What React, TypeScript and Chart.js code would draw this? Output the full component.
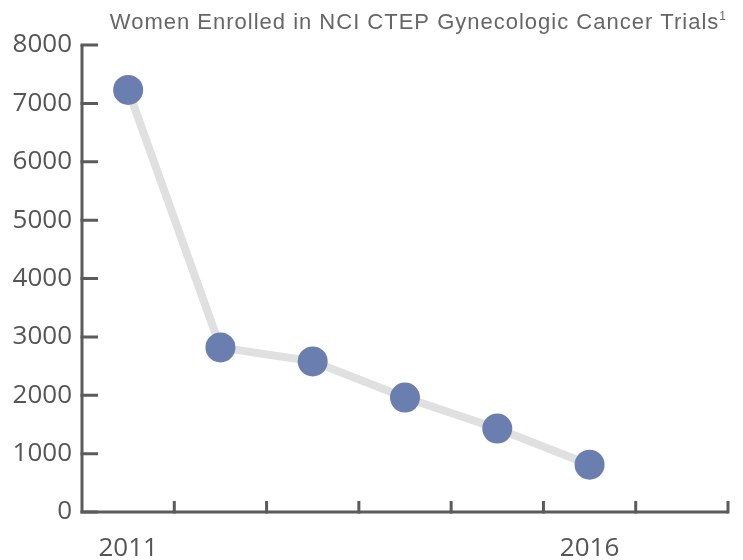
import React, { useEffect, useRef } from "react";
import { Chart, registerables } from "chart.js";

Chart.register(...registerables);

const years = ["2011", "2012", "2013", "2014", "2015", "2016", "2017"];
const shownYearLabels = ["2011", "2016"];
const enrolled = [7230, 2820, 2580, 1960, 1430, 810, null];
const yTicks = [0, 1000, 2000, 3000, 4000, 5000, 6000, 7000, 8000];
const titleText = "Women Enrolled in NCI CTEP Gynecologic Cancer Trials";
const titleSup = "1";

const axisColor = "#5b5b5b";

const axesPlugin = {
  id: "customAxes",
  beforeDatasetsDraw(chart: any) {
    const { ctx, scales } = chart;
    const x = scales.x;
    const y = scales.y;
    const left = x.left;
    const right = x.right;
    const top = y.getPixelForValue(8000);
    const bottom = y.getPixelForValue(0);
    ctx.save();
    ctx.strokeStyle = axisColor;
    ctx.lineWidth = 3;
    ctx.lineCap = "butt";
    ctx.lineJoin = "miter";
    ctx.beginPath();
    ctx.moveTo(left, top);
    ctx.lineTo(left, bottom);
    ctx.lineTo(right, bottom);
    ctx.stroke();
    ctx.beginPath();
    for (const v of yTicks) {
      const py = y.getPixelForValue(v);
      ctx.moveTo(left - 1.5, py);
      ctx.lineTo(left + 16, py);
    }
    ctx.stroke();
    ctx.beginPath();
    for (let i = 1; i <= years.length; i++) {
      const px = x.getPixelForValue(i - 0.5);
      ctx.moveTo(px, bottom + 1.5);
      ctx.lineTo(px, bottom - 11);
    }
    ctx.stroke();
    // title
    ctx.fillStyle = "#666666";
    const mainFont = '22px "Liberation Sans", Arial, sans-serif';
    const supFont = '12px "Liberation Sans", Arial, sans-serif';
    ctx.textBaseline = "alphabetic";
    ctx.textAlign = "left";
    (ctx as any).letterSpacing = "1px";
    ctx.font = mainFont;
    const mainW = ctx.measureText(titleText).width;
    ctx.font = supFont;
    const supW = ctx.measureText(titleSup).width;
    const endX = 727;
    const startX = endX - supW - mainW;
    ctx.font = mainFont;
    ctx.fillText(titleText, startX, 29);
    ctx.font = supFont;
    ctx.fillText(titleSup, startX + mainW, 20);
    ctx.restore();
  },
};

export default function App() {
  const ref = useRef<HTMLCanvasElement | null>(null);
  useEffect(() => {
    document.body.style.margin = "0";
    const canvas = ref.current!;
    const chart = new Chart(canvas, {
      type: "line",
      data: {
        labels: years,
        datasets: [
          {
            data: enrolled,
            borderColor: "#e0e0e0",
            borderWidth: 8,
            pointRadius: 15,
            pointHoverRadius: 15,
            pointBackgroundColor: "#6a7fb0",
            pointBorderWidth: 0,
            pointBorderColor: "#6a7fb0",
            tension: 0,
            spanGaps: false,
          },
        ],
      },
      options: {
        animation: false,
        responsive: false,
        maintainAspectRatio: false,
        layout: { padding: { top: 45, right: 14, left: 0, bottom: 0 } },
        plugins: {
          legend: { display: false },
          tooltip: { enabled: false },
          title: { display: false },
        },
        scales: {
          x: {
            type: "category",
            offset: true,
            grid: { display: false, offset: true },
            border: { display: false },
            ticks: {
              autoSkip: false,
              maxRotation: 0,
              padding: 13,
              color: "#555555",
              font: { family: '"Open Sans", sans-serif', size: 26 },
              callback: (_v: any, i: number) =>
                shownYearLabels.includes(years[i]) ? years[i] : "",
            },
            afterFit: (s: any) => {
              s.height = 48;
            },
          },
          y: {
            min: 0,
            max: 8000,
            afterBuildTicks: (s: any) => {
              s.ticks = yTicks.map((v) => ({ value: v }));
            },
            grid: { display: false },
            border: { display: false },
            ticks: {
              padding: 2,
              color: "#555555",
              font: { family: '"Open Sans", sans-serif', size: 26 },
              callback: (v: any) => String(v),
            },
            afterFit: (s: any) => {
              s.width = 82;
            },
          },
        },
      },
      plugins: [axesPlugin],
    });
    return () => chart.destroy();
  }, []);
  return <canvas ref={ref} width={743} height={560} style={{ display: "block" }} />;
}
